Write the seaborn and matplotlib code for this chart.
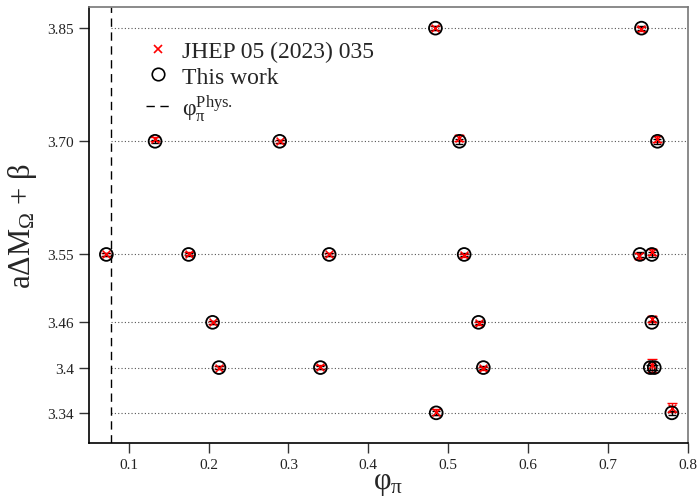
import matplotlib
matplotlib.use("Agg")
import matplotlib.pyplot as plt
import seaborn as sns
import pandas as pd
from matplotlib.lines import Line2D

# ---- data ----
beta_ticks = [3.34, 3.4, 3.46, 3.55, 3.70, 3.85]
beta_labels = ["3.34", "3.4", "3.46", "3.55", "3.70", "3.85"]
phi_phys = 0.078

# This work
tw_phi = [0.484, 0.742,
          0.133, 0.289, 0.514, 0.762,
          0.072, 0.175, 0.351, 0.520, 0.740, 0.755,
          0.205, 0.538, 0.755,
          0.213, 0.340, 0.544, 0.753, 0.758,
          0.485, 0.780]
tw_y = [3.850, 3.850,
        3.700, 3.700, 3.700, 3.700,
        3.550, 3.550, 3.550, 3.550, 3.550, 3.550,
        3.460, 3.460, 3.460,
        3.400, 3.400, 3.400, 3.400, 3.400,
        3.340, 3.340]
tw_err = [0.003, 0.003,
          0.002, 0.002, 0.003, 0.003,
          0.002, 0.002, 0.002, 0.002, 0.003, 0.003,
          0.002, 0.002, 0.002,
          0.002, 0.002, 0.002, 0.003, 0.003,
          0.003, 0.003]

# JHEP 05 (2023) 035
jh_phi = [0.484, 0.742,
          0.133, 0.289, 0.514, 0.762,
          0.072, 0.175, 0.351, 0.520, 0.739, 0.755,
          0.205, 0.538, 0.755,
          0.213, 0.340, 0.544, 0.755,
          0.485, 0.780]
jh_y = [3.850, 3.849,
        3.703, 3.700, 3.705, 3.703,
        3.550, 3.551, 3.550, 3.549, 3.548, 3.553,
        3.460, 3.459, 3.465,
        3.400, 3.401, 3.399, 3.403,
        3.341, 3.347]
jh_err = [0.003, 0.003,
          0.003, 0.002, 0.004, 0.004,
          0.002, 0.002, 0.002, 0.002, 0.004, 0.004,
          0.002, 0.002, 0.004,
          0.002, 0.003, 0.002, 0.009,
          0.004, 0.006]

tw = pd.DataFrame({"phi": tw_phi, "y": tw_y, "err": tw_err})
jh = pd.DataFrame({"phi": jh_phi, "y": jh_y, "err": jh_err})

sns.set_style("ticks")
plt.rcParams["font.family"] = ["Liberation Serif", "DejaVu Serif"]
plt.rcParams["mathtext.fontset"] = "custom"
plt.rcParams["mathtext.rm"] = "Liberation Serif"
plt.rcParams["mathtext.it"] = "Liberation Serif"
plt.rcParams["mathtext.bf"] = "Liberation Serif"

fig = plt.figure(figsize=(6.99, 5.02), dpi=100)
ax = fig.add_axes([0.127, 0.1155, 0.857, 0.8685])

ax.hlines(beta_ticks, phi_phys, 0.8, colors="#555555", linestyles=(0, (1, 2)),
          linewidth=0.8, zorder=1)
ax.axvline(phi_phys, color="black", linestyle=(0, (6, 4)), linewidth=1.0, zorder=2)

ax.errorbar(jh["phi"], jh["y"], yerr=jh["err"], fmt="none", ecolor="red",
            elinewidth=1.0, capsize=3.5, capthick=1.0, zorder=3)
ax.errorbar(tw["phi"], tw["y"], yerr=tw["err"], fmt="none", ecolor="black",
            elinewidth=1.0, capsize=3.0, capthick=1.0, zorder=4)
sns.scatterplot(data=jh, x="phi", y="y", marker="x", color="red", s=32,
                linewidth=1.1, ax=ax, zorder=5)
sns.scatterplot(data=tw, x="phi", y="y", marker="o", facecolor="none",
                edgecolor="black", s=85, linewidth=1.3, ax=ax, zorder=6)

ax.set_xlim(0.05, 0.8)
ax.set_ylim(3.30, 3.878)
ax.set_xticks([0.1, 0.2, 0.3, 0.4, 0.5, 0.6, 0.7, 0.8])
ax.set_xticklabels(["0.1", "0.2", "0.3", "0.4", "0.5", "0.6", "0.7", "0.8"])
ax.set_yticks(beta_ticks)
ax.set_yticklabels(beta_labels)
ax.tick_params(axis="both", direction="out", length=7, width=1.0,
               labelsize=11, color="#333333", labelcolor="#222222")

for s in ["left", "bottom"]:
    ax.spines[s].set_color("black")
    ax.spines[s].set_linewidth(1.2)
for s in ["top", "right"]:
    ax.spines[s].set_color("#777777")
    ax.spines[s].set_linewidth(1.2)

ax.set_xlabel("φ$_{π}$", fontsize=22, labelpad=-2)
ax.set_ylabel("aΔM$_{Ω}$ + β", fontsize=22, labelpad=6)

handles = [
    Line2D([], [], marker="x", color="red", linestyle="none", markersize=6, markeredgewidth=1.2),
    Line2D([], [], marker="o", markerfacecolor="none", markeredgecolor="black",
           linestyle="none", markersize=9, markeredgewidth=1.2),
    Line2D([], [], color="black", linestyle=(0, (6, 4)), linewidth=1.0),
]
labels = ["JHEP 05 (2023) 035", "This work", "φ$_{π}^{\\mathrm{Phys.}}$"]
ax.legend(handles, labels, loc="upper left", bbox_to_anchor=(0.08, 0.945),
          frameon=False, fontsize=17, handlelength=1.0, handletextpad=0.5,
          labelspacing=0.18, borderaxespad=0)

fig.savefig("out.png", dpi=100)
